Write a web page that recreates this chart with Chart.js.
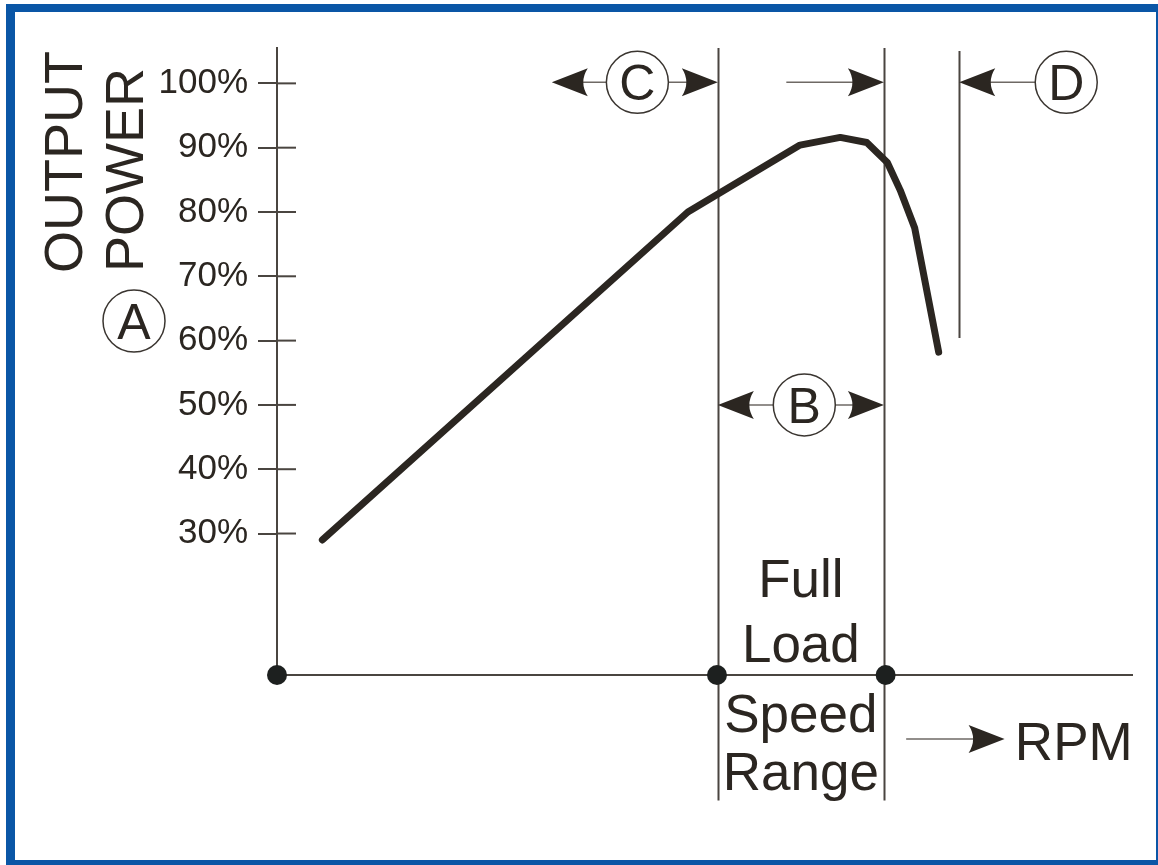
<!DOCTYPE html>
<html>
<head>
<meta charset="utf-8">
<script src="https://cdn.jsdelivr.net/npm/chart.js@4/dist/chart.umd.min.js"></script>
<style>
  html, body { margin: 0; padding: 0; background: #fff; }
</style>
</head>
<body>
<canvas id="potencia" width="1158" height="865"></canvas>
<script>
// Curva de potencia (RPM em unidades relativas 0-100)
const rpm = [5.3, 48.0, 61.1, 65.8, 68.9, 71.3, 72.8, 74.5, 77.3];
const outputPower = [29.0, 80.0, 90.4, 91.6, 90.8, 87.7, 83.4, 77.5, 58.2];
const yTicks = [30, 40, 50, 60, 70, 80, 90, 100];
const axisDots = [0, 51.4, 71.1];
const speedRange = [51.5, 70.9]; // faixa B
const limitRpm = 79.7;           // linha D

const ink = '#2b2621';
const thin = '#4a4540';
const stem = '#6e6964';
const fam = '"Liberation Sans", Arial, sans-serif';
const yMin = 8, yMax = 105.5;

function arrowHead(ctx, tipX, y, dir) {
    ctx.beginPath();
    ctx.moveTo(tipX, y);
    ctx.lineTo(tipX - dir * 36, y - 14);
    ctx.quadraticCurveTo(tipX - dir * 27, y, tipX - dir * 36, y + 14);
    ctx.closePath();
    ctx.fillStyle = ink;
    ctx.fill();
}

function circled(ctx, cx, cy, letter) {
    ctx.beginPath();
    ctx.arc(cx, cy, 31, 0, Math.PI * 2);
    ctx.fillStyle = '#fff';
    ctx.fill();
    ctx.lineWidth = 1.5;
    ctx.strokeStyle = '#3a3530';
    ctx.stroke();
    ctx.fillStyle = ink;
    ctx.font = '50px ' + fam;
    ctx.textAlign = 'center';
    ctx.textBaseline = 'alphabetic';
    ctx.fillText(letter, cx, cy + 18);
}

function hLine(ctx, x1, x2, y, color, w) {
    ctx.beginPath();
    ctx.moveTo(x1, y);
    ctx.lineTo(x2, y);
    ctx.strokeStyle = color;
    ctx.lineWidth = w;
    ctx.stroke();
}

const desenho = {
    id: 'desenho',
    beforeDraw(chart) {
        const ctx = chart.ctx;
        ctx.save();
        ctx.fillStyle = '#fff';
        ctx.fillRect(0, 0, chart.width, chart.height);
        ctx.fillStyle = '#0a56a6';
        ctx.fillRect(6, 4, 1152, 861);
        ctx.fillStyle = '#fff';
        ctx.fillRect(15, 12, 1141, 848);
        ctx.restore();
    },
    beforeDatasetsDraw(chart) {
        const ctx = chart.ctx;
        const xs = chart.scales.x, ys = chart.scales.y;
        const area = chart.chartArea;
        ctx.save();
        // eixo x
        hLine(ctx, area.left, area.right, area.bottom, thin, 2);
        // parte interna das marcas do eixo y
        yTicks.forEach(v => hLine(ctx, area.left, area.left + 19, ys.getPixelForValue(v), thin, 2));
        // linhas verticais
        ctx.strokeStyle = thin;
        ctx.lineWidth = 2;
        speedRange.forEach(r => {
            const px = Math.round(xs.getPixelForValue(r)) + 0.5;
            ctx.beginPath();
            ctx.moveTo(px, area.top);
            ctx.lineTo(px, ys.getPixelForValue(-11.5));
            ctx.stroke();
        });
        const pd = Math.round(xs.getPixelForValue(limitRpm)) + 0.5;
        ctx.beginPath();
        ctx.moveTo(pd, area.top + 3);
        ctx.lineTo(pd, ys.getPixelForValue(60.4));
        ctx.stroke();
        ctx.restore();
    },
    afterDraw(chart) {
        const ctx = chart.ctx;
        const xs = chart.scales.x, ys = chart.scales.y;
        const area = chart.chartArea;
        const x = v => xs.getPixelForValue(v);
        const xa = x(speedRange[0]), xb = x(speedRange[1]);
        ctx.save();

        // titulo do eixo y
        ctx.fillStyle = ink;
        ctx.font = '54px ' + fam;
        ctx.textAlign = 'left';
        ctx.textBaseline = 'alphabetic';
        [['OUTPUT', 82, 273], ['POWER', 143, 272]].forEach(([t, bx, by]) => {
            ctx.save();
            ctx.translate(bx, by);
            ctx.rotate(-Math.PI / 2);
            ctx.fillText(t, 0, 0);
            ctx.restore();
        });
        circled(ctx, 134, 321, 'A');

        // C
        const yTop = ys.getPixelForValue(100) - 1;
        hLine(ctx, x(32.1) + 20, xa - 20, yTop, stem, 1.5);
        arrowHead(ctx, x(32.1), yTop, -1);
        arrowHead(ctx, xa, yTop, 1);
        circled(ctx, x(42.1), yTop, 'C');

        // seta para a direita até o fim da faixa
        hLine(ctx, x(59.5), xb - 20, yTop, stem, 1.5);
        arrowHead(ctx, xb, yTop, 1);

        // D
        const xd = x(limitRpm);
        hLine(ctx, xd + 20, x(92.2), yTop, stem, 1.5);
        arrowHead(ctx, xd, yTop, -1);
        circled(ctx, x(92.2), yTop, 'D');

        // B
        const yB = ys.getPixelForValue(50);
        hLine(ctx, xa + 20, xb - 20, yB, stem, 1.5);
        arrowHead(ctx, xa, yB, -1);
        arrowHead(ctx, xb, yB, 1);
        circled(ctx, x(61.6), yB, 'B');

        // textos da faixa
        const mid = (xa + xb) / 2;
        ctx.fillStyle = ink;
        ctx.font = '53px ' + fam;
        ctx.textAlign = 'center';
        ctx.textBaseline = 'alphabetic';
        ctx.fillText('Full', mid, area.bottom - 78);
        ctx.fillText('Load', mid, area.bottom - 13);
        ctx.fillText('Speed', mid, area.bottom + 57);
        ctx.fillText('Range', mid, area.bottom + 115);

        // RPM
        const yR = area.bottom + 64;
        hLine(ctx, x(73.5), x(85.0) - 20, yR, stem, 1.5);
        arrowHead(ctx, x(85.0), yR, 1);
        ctx.fillStyle = ink;
        ctx.textAlign = 'left';
        ctx.fillText('RPM', x(86.2), area.bottom + 85);

        ctx.restore();
    }
};

const ctx = document.getElementById('potencia').getContext('2d');
const grafico = new Chart(ctx, {
    type: 'line',
    data: {
        datasets: [{
            label: 'Output Power',
            data: rpm.map((r, i) => ({ x: r, y: outputPower[i] })),
            borderColor: ink,
            borderWidth: 7,
            borderCapStyle: 'round',
            borderJoinStyle: 'round',
            pointRadius: 0,
            tension: 0,
            fill: false
        }, {
            type: 'scatter',
            label: 'marcas',
            data: axisDots.map(r => ({ x: r, y: yMin })),
            pointRadius: 10,
            pointBackgroundColor: '#1d201f',
            pointBorderWidth: 0,
            showLine: false,
            clip: false
        }]
    },
    options: {
        responsive: false,
        animation: false,
        layout: { padding: { top: 48, bottom: 190, left: 0, right: 25 } },
        scales: {
            x: {
                type: 'linear',
                min: 0,
                max: 100,
                display: false
            },
            y: {
                min: yMin,
                max: yMax,
                afterFit: s => { s.width = 277; },
                afterBuildTicks: s => { s.ticks = yTicks.map(v => ({ value: v })); },
                ticks: {
                    callback: v => v + '%',
                    color: ink,
                    font: { family: fam, size: 35 },
                    padding: 10,
                    autoSkip: false
                },
                grid: { drawOnChartArea: false, tickLength: 19, color: thin, lineWidth: 2 },
                border: { color: thin, width: 2 }
            }
        },
        plugins: {
            legend: { display: false },
            tooltip: { enabled: false }
        }
    },
    plugins: [desenho]
});
</script>
</body>
</html>
